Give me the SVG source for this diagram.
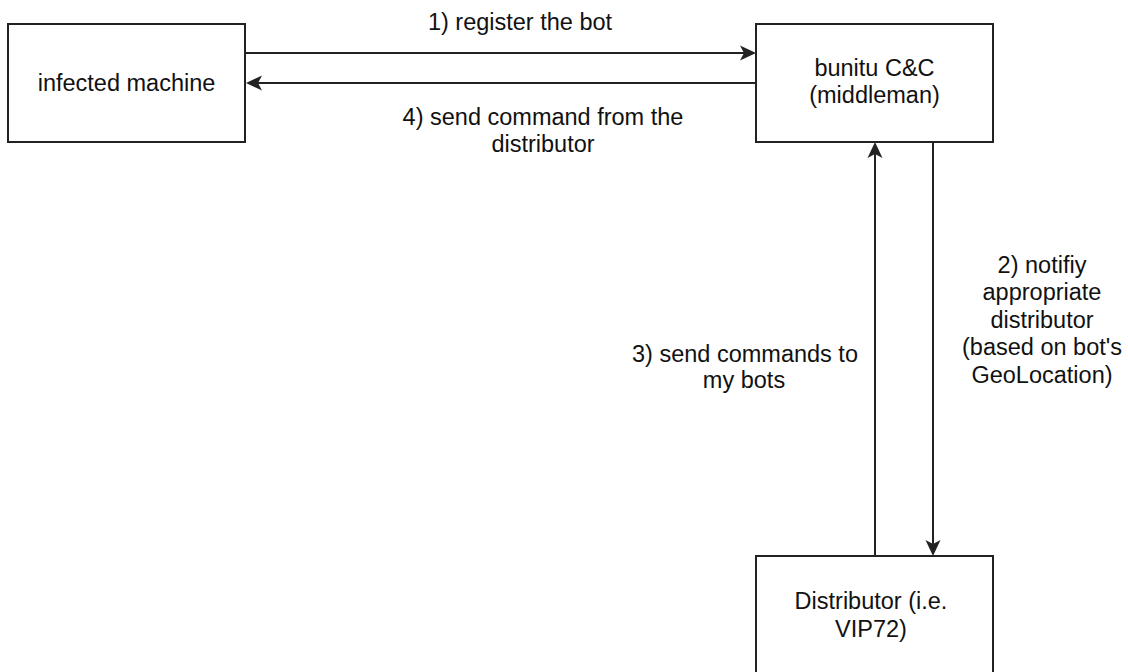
<svg xmlns="http://www.w3.org/2000/svg" width="1128" height="672" viewBox="0 0 1128 672">
<style>
  .box { fill: #ffffff; stroke: #222222; stroke-width: 2; }
  .edge { fill: none; stroke: #222222; stroke-width: 2; }
  text { font-family: "Liberation Sans", Arial, Helvetica, sans-serif; font-size: 23.5px; fill: #111111; text-anchor: middle; }
</style>
<defs>
  <marker id="arrow" viewBox="0 0 16 16" refX="12" refY="8" markerWidth="16" markerHeight="16" markerUnits="userSpaceOnUse" orient="auto">
    <path d="M0,0.5 L16,8 L0,15.5 L4,8 Z" fill="#222222"/>
  </marker>
</defs>
<rect width="1128" height="672" fill="#ffffff"/>

<g id="connectors">
  <g id="edge1">
    <path class="edge" d="M245,53 L752,53" marker-end="url(#arrow)"/>
    <text x="520" y="30">1) register the bot</text>
  </g>
  <g id="edge4">
    <path class="edge" d="M756,83 L250,83" marker-end="url(#arrow)"/>
    <text x="543" y="125">4) send command from the</text>
    <text x="543" y="152">distributor</text>
  </g>
  <g id="edge2">
    <path class="edge" d="M933,142 L933,552" marker-end="url(#arrow)"/>
    <text x="1042" y="273">2) notifiy</text>
    <text x="1042" y="300">appropriate</text>
    <text x="1042" y="328">distributor</text>
    <text x="1042" y="355">(based on bot's</text>
    <text x="1042" y="383">GeoLocation)</text>
  </g>
  <g id="edge3">
    <path class="edge" d="M875,556 L875,146" marker-end="url(#arrow)"/>
    <text x="745" y="362">3) send commands to</text>
    <text x="744" y="388">my bots</text>
  </g>
</g>

<g id="node-infected">
  <rect class="box" x="8" y="24" width="237" height="118"/>
  <text x="126.5" y="91">infected machine</text>
</g>

<g id="node-cnc">
  <rect class="box" x="756" y="24" width="237" height="118"/>
  <text x="874.5" y="76">bunitu C&amp;C</text>
  <text x="874.5" y="103">(middleman)</text>
</g>

<g id="node-distributor">
  <rect class="box" x="756" y="556" width="237" height="118"/>
  <text x="871" y="609">Distributor (i.e.</text>
  <text x="871" y="637">VIP72)</text>
</g>
</svg>
